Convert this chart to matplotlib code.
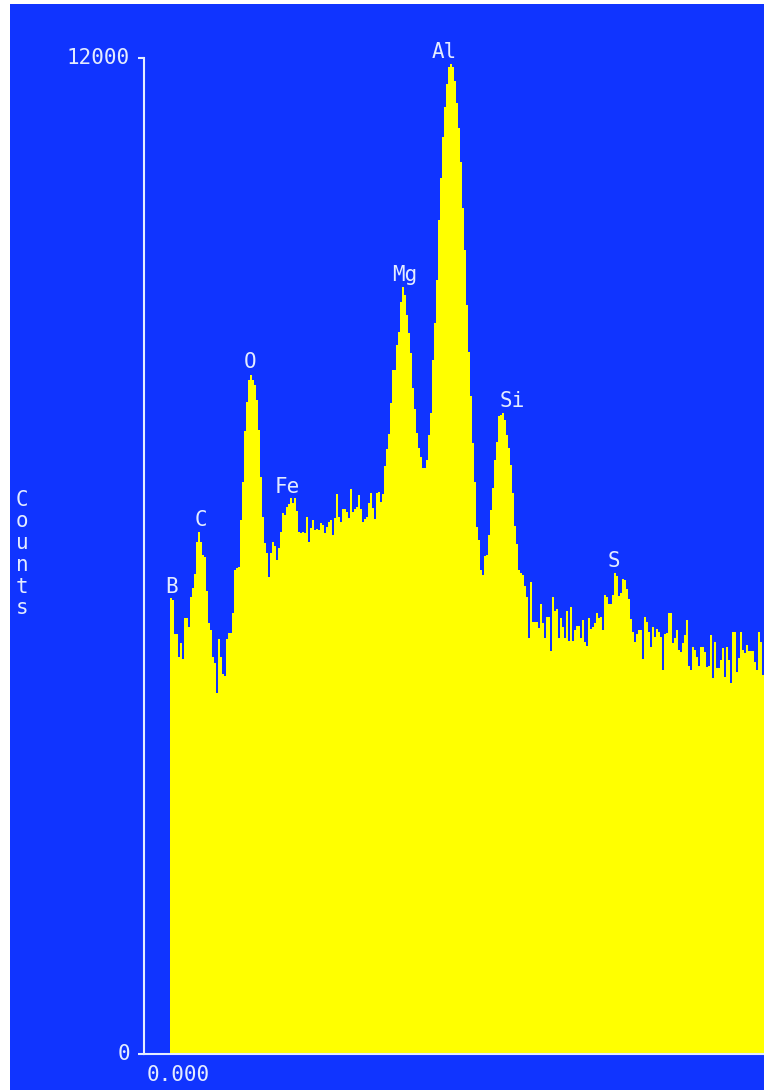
import matplotlib
matplotlib.use("Agg")
import matplotlib.pyplot as plt
import numpy as np
from matplotlib.patches import Rectangle

# ---- data ----
first_channel = 13
counts = [
    5494, 5470, 5060, 5060, 4783, 4952, 4759, 5253, 5253, 5145,
    5506, 5614, 5783, 6169, 6289, 6169, 6012, 5988, 5578, 5193,
    5108, 4783, 4711, 4349, 5000, 4783, 4578, 4554, 5000, 5072,
    5072, 5313, 5831, 5855, 5867, 6434, 6892, 7506, 7855, 8120,
    8181, 8120, 8060, 7880, 7518, 6952, 6470, 6157, 6036, 5747,
    6036, 6169, 6120, 5952, 6096, 6289, 6518, 6494, 6590, 6627,
    6699, 6639, 6699, 6542, 6289, 6277, 6289, 6277, 6470, 6169,
    6337, 6434, 6313, 6325, 6313, 6398, 6373, 6277, 6349, 6410,
    6434, 6253, 6458, 6747, 6470, 6410, 6566, 6566, 6530, 6458,
    6807, 6530, 6566, 6590, 6735, 6566, 6410, 6446, 6470, 6639,
    6759, 6578, 6446, 6759, 6771, 6651, 6747, 7084, 7289, 7470,
    7843, 8241, 8241, 8542, 8699, 9060, 9241, 9145, 8904, 8687,
    8446, 8024, 7771, 7482, 7301, 7193, 7060, 7060, 7157, 7458,
    7723, 8361, 8807, 9325, 10048, 10554, 11048, 11410, 11687, 11892,
    11928, 11892, 11723, 11458, 11157, 10747, 10193, 9687, 9024, 8458,
    7928, 7361, 6892, 6349, 6193, 5831, 5771, 6000, 6012, 6253,
    6554, 6819, 7157, 7373, 7687, 7699, 7723, 7639, 7458, 7301,
    7096, 6759, 6361, 6145, 5831, 5795, 5771, 5639, 5506, 5012,
    5687, 5205, 5205, 5205, 5133, 5422, 5193, 5012, 5265, 5265,
    4855, 5506, 5337, 5361, 5012, 5253, 5145, 5012, 5337, 4976,
    5386, 4976, 5108, 5157, 5157, 5012, 5229, 4964, 4916, 5253,
    5120, 5145, 5193, 5313, 5253, 5265, 5108, 5530, 5506, 5422,
    5422, 5530, 5795, 5759, 5518, 5554, 5723, 5711, 5602, 5482,
    5241, 5084, 4964, 5060, 5108, 5108, 4759, 5265, 5205, 5084,
    4904, 5145, 5024, 5120, 5084, 5024, 4627, 5060, 5072, 5313,
    5313, 4952, 5012, 5108, 4867, 4843, 4952, 5048, 5229, 4675,
    4627, 4904, 4867, 4783, 4675, 4904, 4904, 4843, 4663, 4675,
    5048, 4530, 4964, 4651, 4651, 4747, 4892, 4542, 4904, 4747,
    4470, 5084, 5084, 4602, 4771, 5084, 4867, 4831, 4928, 4855,
    4855, 4855, 4723, 4627, 5084, 4964, 4566,
]
elements = ["B", "C", "O", "Fe", "Mg", "Al", "Si", "S"]
element_channels = [14, 28.5, 53, 71.5, 130.5, 150, 184, 235]
element_counts = [5626, 6434, 8337, 6831, 9386, 12072, 7867, 5940]
y_ticks = [0, 12000]
y_tick_labels = ["0", "12000"]
x_label_text = "0.000"
y_axis_title = "Counts"

# ---- style ----
W, H = 764, 1090
BLUE = "#1034ff"
YELLOW = "#ffff00"
TXT = "#e4ecff"
FONT = ["DejaVu Sans Mono"]
FS = 15

fig = plt.figure(figsize=(W / 100, H / 100), dpi=100, facecolor="white")
fig.patches.append(Rectangle((10 / W, 0), 1 - 10 / W, 1 - 4 / H,
                             transform=fig.transFigure, facecolor=BLUE,
                             edgecolor="none", zorder=-10))

ax = fig.add_axes([144 / W, (H - 1054) / H, (W - 144) / W, (1054 - 58) / H])
ax.set_facecolor("none")

edges = np.arange(first_channel, first_channel + len(counts) + 1)
ax.stairs(counts, edges, fill=True, color=YELLOW, linewidth=0)

ax.set_xlim(0, 310)
ax.set_ylim(0, 12000)

for s in ["top", "right"]:
    ax.spines[s].set_visible(False)
for s in ["left", "bottom"]:
    ax.spines[s].set_color(TXT)
    ax.spines[s].set_linewidth(1.5)
    ax.spines[s].set_zorder(5)

ax.set_yticks(y_ticks)
ax.set_yticklabels(y_tick_labels, family=FONT, fontsize=FS, color=TXT)
for lbl in ax.get_yticklabels():
    lbl.set_verticalalignment("center")
ax.tick_params(axis="y", colors=TXT, length=4, width=1.5, pad=6, labelcolor=TXT)
ax.set_xticks([])

ax.text(3 / 620, -21 / 996, x_label_text, transform=ax.transAxes,
        ha="left", va="center", family=FONT, fontsize=FS, color=TXT)

for name, cx, cy in zip(elements, element_channels, element_counts):
    ax.text(cx, cy, name, ha="center", va="center", family=FONT,
            fontsize=FS, color=TXT, zorder=6)

fig.text(22 / W, 1 - 554 / H, "\n".join(y_axis_title), ha="center", va="center",
         family=FONT, fontsize=FS, color=TXT, linespacing=1.11)

fig.savefig("out.png", dpi=100, facecolor="white")
